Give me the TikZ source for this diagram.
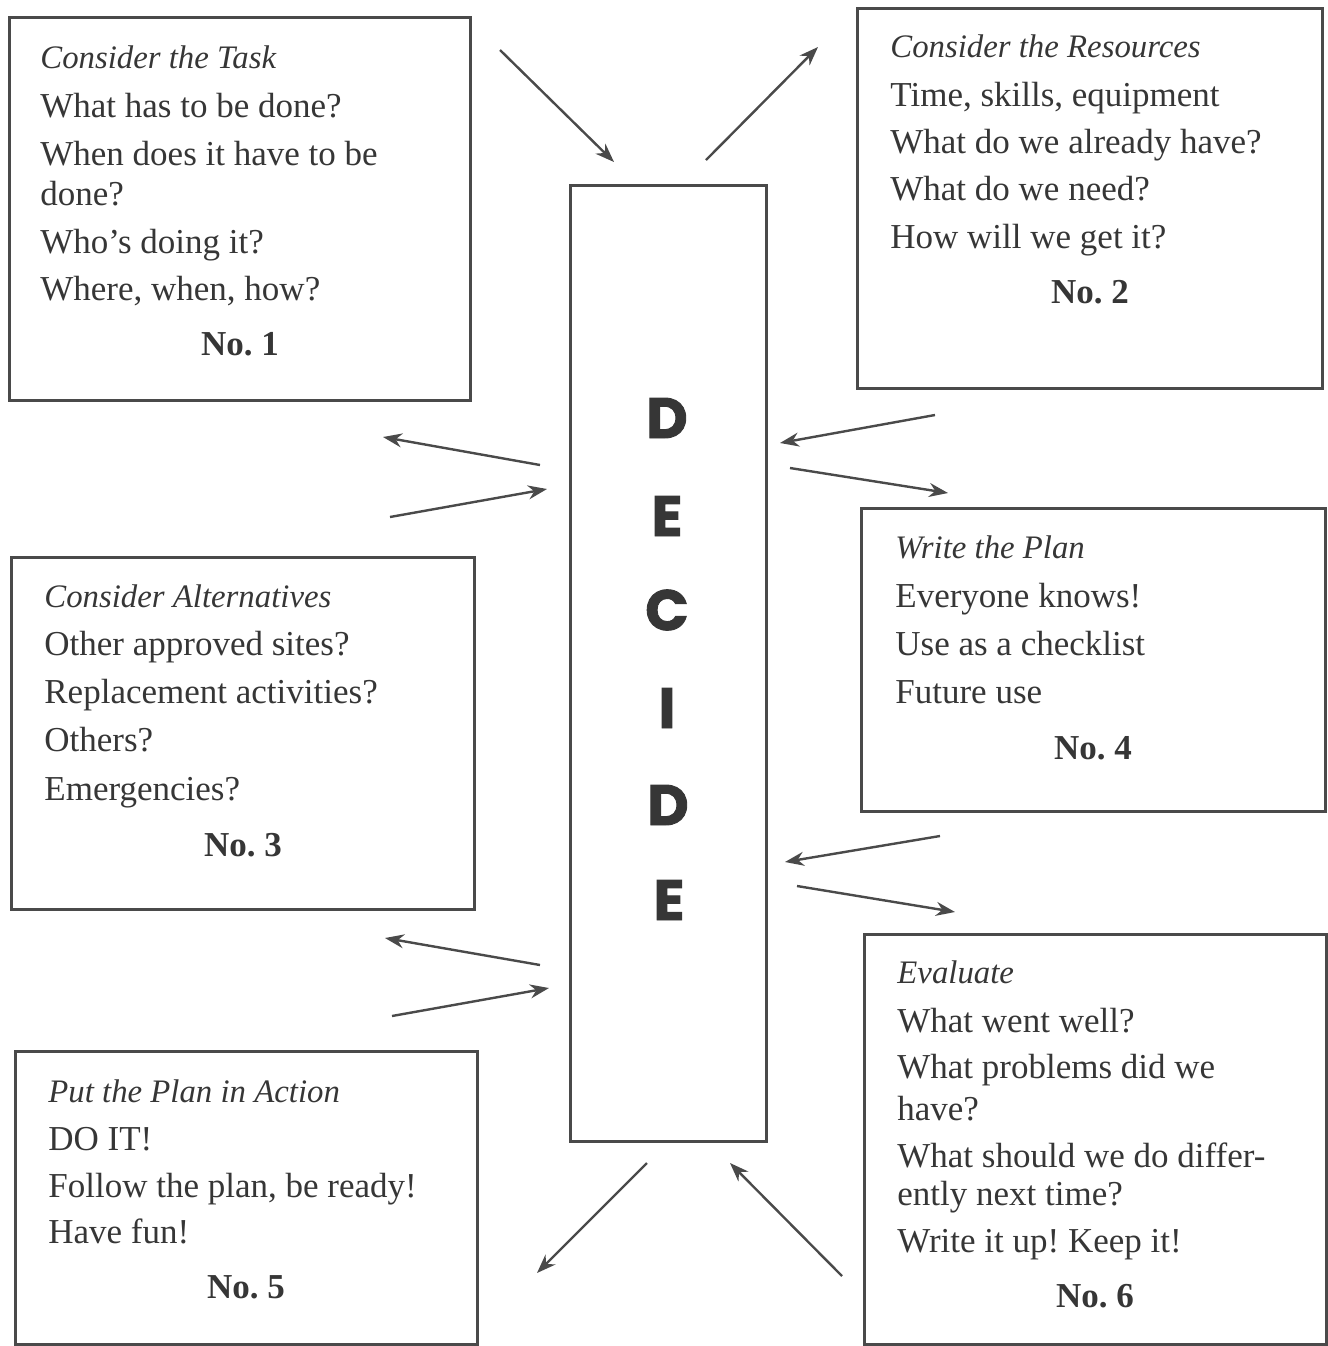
\documentclass[tikz,border=0pt]{standalone}
\usepackage{fontspec}
\setmainfont{Liberation Serif}
\newfontfamily\decfam[FakeBold=1.6]{Poppins}
\usetikzlibrary{arrows.meta}
\definecolor{textc}{HTML}{363636}
\definecolor{linec}{HTML}{4A4A4A}
\newcommand\bodyfont{\frenchspacing\fontsize{17.5}{20}\selectfont}
\newcommand\headfont{\frenchspacing\fontsize{16.4}{20}\selectfont\itshape}
\newcommand\decfont{\decfam\bfseries\fontsize{28.5}{30}\selectfont}
\tikzset{
  frame/.style={draw=linec, line width=1.5pt},
  txt/.style={anchor=base west, inner sep=0pt, font=\bodyfont, text=textc},
  head/.style={txt, font=\headfont},
  numlab/.style={anchor=base, inner sep=0pt, font=\bodyfont\bfseries, text=textc},
  letter/.style={anchor=center, inner sep=0pt, font=\decfont, text=textc},
  arr/.style={draw=linec, line width=1.2pt, -{Stealth[length=9.5pt,width=7pt]}}
}
\begin{document}
\begin{tikzpicture}[x=0.5pt,y=-0.5pt]
\useasboundingbox (0,0) rectangle (1328,1346);
% boxes
\draw[frame] (9,17) rectangle (470,400) coordinate (b1);
\draw[frame] (857,8) rectangle (1322,388) coordinate (b2);
\draw[frame] (11,557) rectangle (474,909) coordinate (b3);
\draw[frame] (861,508) rectangle (1325,811) coordinate (b4);
\draw[frame] (15,1051) rectangle (477,1344) coordinate (b5);
\draw[frame] (864,934) rectangle (1326,1344) coordinate (b6);
\node[frame, anchor=north west, minimum width=98pt, minimum height=478pt, inner sep=0pt] (dec) at (569,184) {};
% DECIDE
\node[letter] (l1) at (667,418) {D};
\node[letter] (l2) at (667,516) {E};
\node[letter] (l3) at (667,610) {C};
\node[letter] (l4) at (667,708) {I};
\node[letter] (l5) at (668,805) {D};
\node[letter] (l6) at (669,900) {E};
% box 1
\node[head] (t1a) at (40,68) {Consider the Task};
\node[txt] (t1b) at (40,117) {What has to be done?};
\node[txt] (t1c) at (40,165) {When does it have to be};
\node[txt] (t1d) at (40,205) {done?};
\node[txt] (t1e) at (40,253) {Who’s doing it?};
\node[txt] (t1f) at (40,300) {Where, when, how?};
\node[numlab] (n1) at (240,355) {No. 1};
% box 2
\node[head] (t2a) at (890,57) {Consider the Resources};
\node[txt] (t2b) at (890,106) {Time, skills, equipment};
\node[txt] (t2c) at (890,153) {What do we already have?};
\node[txt] (t2d) at (890,200) {What do we need?};
\node[txt] (t2e) at (890,248) {How will we get it?};
\node[numlab] (n2) at (1090,303) {No. 2};
% box 3
\node[head] (t3a) at (44,607) {Consider Alternatives};
\node[txt] (t3b) at (44,655) {Other approved sites?};
\node[txt] (t3c) at (44,703) {Replacement activities?};
\node[txt] (t3d) at (44,751) {Others?};
\node[txt] (t3e) at (44,800) {Emergencies?};
\node[numlab] (n3) at (243,856) {No. 3};
% box 4
\node[head] (t4a) at (895,558) {Write the Plan};
\node[txt] (t4b) at (895,607) {Everyone knows!};
\node[txt] (t4c) at (895,655) {Use as a checklist};
\node[txt] (t4d) at (895,703) {Future use};
\node[numlab] (n4) at (1093,759) {No. 4};
% box 5
\node[head] (t5a) at (48,1102) {Put the Plan in Action};
\node[txt] (t5b) at (48,1150) {DO IT!};
\node[txt] (t5c) at (48,1197) {Follow the plan, be ready!};
\node[txt] (t5d) at (48,1243) {Have fun!};
\node[numlab] (n5) at (246,1298) {No. 5};
% box 6
\node[head] (t6a) at (897,983) {Evaluate};
\node[txt] (t6b) at (897,1032) {What went well?};
\node[txt] (t6c) at (897,1078) {What problems did we};
\node[txt] (t6d) at (897,1120) {have?};
\node[txt] (t6e) at (897,1167) {What should we do differ-};
\node[txt] (t6f) at (897,1205) {ently next time?};
\node[txt] (t6g) at (897,1252) {Write it up! Keep it!};
\node[numlab] (n6) at (1095,1307) {No. 6};
% arrow end points
\coordinate (a1s) at (500,50);   \coordinate (a1e) at (614,162);
\coordinate (a2s) at (706,160);  \coordinate (a2e) at (818,47);
\coordinate (a3s) at (540,465);  \coordinate (a3e) at (383,437);
\coordinate (a4s) at (390,517);  \coordinate (a4e) at (547,489);
\coordinate (a5s) at (935,415);  \coordinate (a5e) at (780,443);
\coordinate (a6s) at (790,468);  \coordinate (a6e) at (948,493);
\coordinate (a7s) at (540,965);  \coordinate (a7e) at (385,938);
\coordinate (a8s) at (392,1016); \coordinate (a8e) at (549,988);
\coordinate (a9s) at (940,836);  \coordinate (a9e) at (785,862);
\coordinate (a10s) at (797,886); \coordinate (a10e) at (955,912);
\coordinate (a11s) at (647,1163); \coordinate (a11e) at (537,1273);
\coordinate (a12s) at (842,1276); \coordinate (a12e) at (730,1163);
\foreach \i in {1,...,12} { \draw[arr] (a\i s) -- (a\i e); }
\end{tikzpicture}
\end{document}
